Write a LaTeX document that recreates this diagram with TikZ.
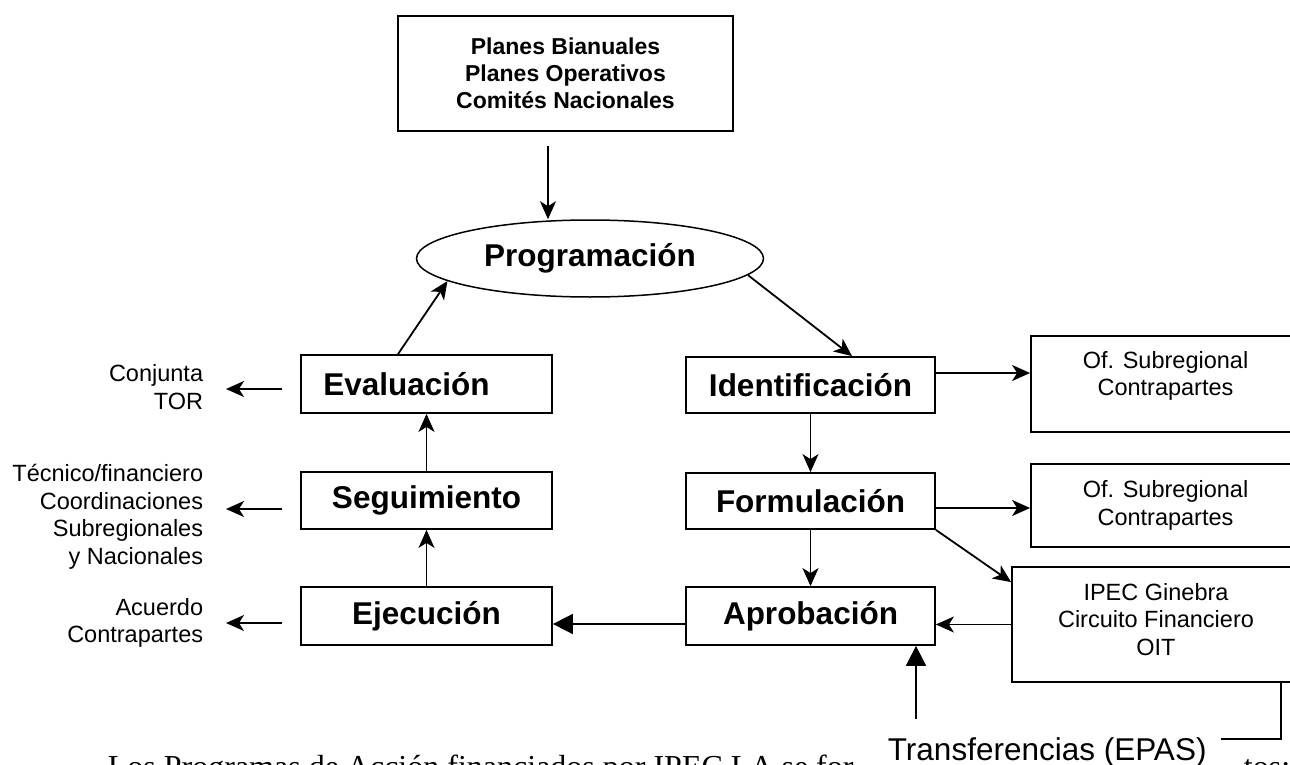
\documentclass[tikz,border=0pt]{standalone}
\usepackage{fontspec}
\setmainfont{Liberation Sans}
\newfontfamily\bodyserif{Liberation Serif}
\usetikzlibrary{arrows.meta,shapes.geometric}
\begin{document}
\begin{tikzpicture}[x=1pt,y=-1pt,line width=1.8pt,
  bigt/.style={font=\fontsize{31.5}{36}\selectfont\bfseries},
  smallt/.style={font=\fontsize{23.5}{27.5}\selectfont, align=center},
  topt/.style={font=\fontsize{23}{27}\selectfont\bfseries, align=center},
  mbox/.style={draw, rectangle, inner sep=0pt, bigt},
  rbox/.style={draw, rectangle, inner sep=0pt, smallt},
  lbl/.style={smallt, align=right, inner sep=0pt, anchor=east},
  bodyt/.style={font=\bodyserif\fontsize{32}{38}\selectfont, inner sep=0pt, anchor=base west},
  arr/.style={-{Stealth[length=18pt,width=16pt,inset=5pt]}},
  bigarr/.style={-{Triangle[length=20pt,width=20pt]}},
]
\clip (0,0) rectangle (1290,765);

% top box and ellipse
\node[draw, rectangle, inner sep=0pt, topt, minimum width=335, minimum height=115] (top) at (565.5,73.5)
  {Planes Bianuales\\Planes Operativos\\Comités Nacionales};
\node[draw, ellipse, inner sep=0pt, line width=1.5pt, bigt, minimum width=347, minimum height=77] (prog) at (590,258.5) {Programación};

% left column
\node[draw, rectangle, inner sep=0pt, minimum width=251, minimum height=58,
  label={[bigt, xshift=-20pt]center:Evaluación}] (eval) at (426.5,384) {};
\node[mbox, minimum width=251, minimum height=57] (segu) at (426.5,500.5) {Seguimiento};
\node[mbox, minimum width=251, minimum height=58] (ejec) at (426.5,616) {Ejecución};

% middle column
\node[mbox, minimum width=249, minimum height=56] (iden) at (810.5,385) {Identificación};
\node[mbox, minimum width=249, minimum height=56] (form) at (810.5,501) {Formulación};
\node[mbox, minimum width=249, minimum height=58] (aprob) at (810.5,616) {Aprobación};

% right column (cut by the page edge)
\node[draw, rectangle, inner sep=0pt, minimum width=269, minimum height=96,
  label={[smallt, yshift=8pt]center:{Of. Subregional\\Contrapartes}}] (sub1) at (1165.5,384) {};
\node[rbox, minimum width=269, minimum height=83] (sub2) at (1165.5,505.5) {Of. Subregional\\Contrapartes};
\node[draw, rectangle, inner sep=0pt, minimum width=288, minimum height=115,
  label={[smallt, yshift=5pt]center:{IPEC Ginebra\\Circuito Financiero\\OIT}}] (ipec) at (1156,624.5) {};

% left labels
\node[lbl] (conj) at (204,387) {Conjunta\\TOR};
\node[lbl] (tec) at (204,517) {Técnico/financiero\\Coordinaciones\\Subregionales\\y Nacionales};
\node[lbl] (acu) at (204,623) {Acuerdo\\Contrapartes};

% bottom texts
\node[bodyt] (bodyA) at (107,777) {Los Programas de Acción financiados por IPEC LA se for};
\node[bodyt] (bodyB) at (1243,777) {tos:};
\node[font=\fontsize{31.5}{36}\selectfont, inner xsep=14pt, inner ysep=0pt, anchor=base west] (trans) at (873,760) {Transferencias (EPAS)};

% connectors
\draw[arr] ([xshift=-17.5pt,yshift=-14pt]top.south) -- ([xshift=-17.5pt]top.south |- prog.north);
\draw[arr] ([xshift=-28.5pt]eval.north) -- (prog.189.7);
\draw[arr] (prog.-6.9) -- ([xshift=41.5pt]iden.north);
\draw[arr] ([yshift=12pt]iden.east) -- ([yshift=12pt]iden.east -| sub1.west);
\draw[arr] (iden.south) -- (form.north);
\draw[arr] ([yshift=-7pt]form.east) -- ([yshift=-7pt]form.east -| sub2.west);
\draw[arr] (form.south) -- (aprob.north);
\draw[arr] (form.south east) -- ([yshift=-16pt]ipec.north west);
\draw[arr] (ipec.west) -- (ipec.west -| aprob.east);
\draw[bigarr] ([yshift=-8pt]aprob.west) -- ([yshift=-8pt]aprob.west -| ejec.east);
\draw[arr] (ejec.north) -- (segu.south);
\draw[arr] (segu.north) -- (eval.south);

\coordinate (c1) at ([xshift=22pt]conj.east);
\coordinate (e1) at ([xshift=-18pt,yshift=-5pt]eval.west);
\draw[arr] (e1) -- (e1 -| c1);
\coordinate (e2) at ([xshift=-18pt,yshift=-8.5pt]segu.west);
\draw[arr] (e2) -- (e2 -| c1);
\coordinate (e3) at ([xshift=-18pt,yshift=-7pt]ejec.west);
\draw[arr] (e3) -- (e3 -| c1);

\coordinate (tup) at (916,719);
\draw[bigarr] (tup) -- (tup |- aprob.south);
\coordinate (tcorner) at (1281,739);
\draw (ipec.south -| tcorner) -- (tcorner) -- (tcorner -| trans.east);
\end{tikzpicture}
\end{document}
